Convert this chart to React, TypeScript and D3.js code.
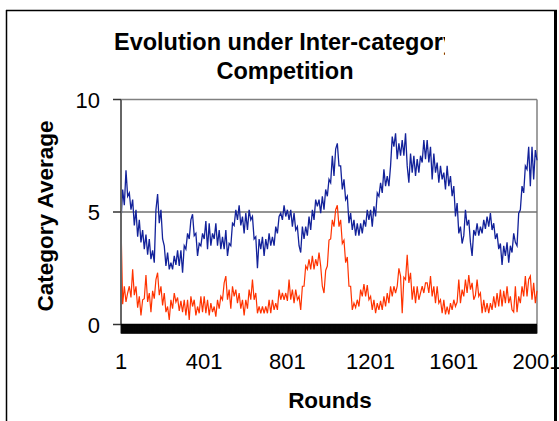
import React from 'react';
import * as d3 from 'd3';

// rounds 1..2001, one sample every 8 rounds
const firstRound = 1;
const lastRound = 2001;
const sampleStep = 8;

// upper (blue) category average
const blueSeries = [
  4.6, 6.0, 5.3, 6.85, 5.7, 5.85, 5.1, 5.55, 4.4, 5.1,
  3.9, 4.65, 3.65, 4.2, 3.35, 4.0, 3.1, 3.8, 2.9, 3.3,
  2.75, 5.1, 5.8, 4.5, 5.1, 3.8, 3.5, 2.6, 3.2, 2.45,
  2.75, 2.45, 3.05, 2.65,
  3.3, 2.6, 3.3, 2.3, 3.5, 3.35, 4.05, 3.8, 4.65, 4.9,
  3.95, 4.05, 3.05, 3.6, 3.5, 4.05, 3.8, 4.6, 3.35, 4.5,
  3.5, 4.05, 3.8, 4.5, 3.5, 4.2, 3.35, 3.9, 3.35, 4.2,
  3.05, 3.6, 3.5, 4.5, 4.4, 5.1,
  4.65, 5.3, 4.4, 4.8, 4.05, 4.95, 4.2, 5.1, 4.65, 4.8,
  3.8, 3.9, 2.5, 3.8, 3.35, 3.9, 3.05, 3.8, 3.35, 4.05,
  3.5, 3.9, 3.5, 4.35, 4.05, 4.8, 4.95, 4.65, 5.3, 4.8,
  5.1, 4.65, 5.1, 4.35, 4.95, 4.2,
  4.35, 3.5, 3.2, 4.35, 3.8, 4.35, 3.95, 4.8, 4.2, 5.1,
  4.65, 5.55, 5.25, 5.55, 4.95, 5.7, 5.1, 6.0, 5.7, 6.45,
  6.3, 7.5, 6.6, 7.8, 8.05, 7.05, 7.05, 6.0, 6.45, 5.55,
  5.7, 4.5, 4.95, 4.2, 4.65, 3.95,
  4.5, 3.95, 4.5, 4.05, 4.65, 4.35, 5.1, 4.65, 5.1, 4.35,
  5.25, 4.8, 5.85, 5.7, 6.3, 5.85, 6.9, 6.15, 6.6, 6.15,
  7.05, 8.35, 7.9, 8.5, 7.35, 8.05, 7.5, 8.2, 7.5, 8.5,
  7.05, 6.3, 7.6, 6.75, 7.5, 6.6,
  7.35, 6.75, 7.5, 7.2, 8.2, 7.35, 8.2, 7.2, 7.9, 6.45,
  7.6, 6.75, 7.2, 6.3, 7.05, 6.45, 6.75, 6.0, 7.05, 6.15,
  6.6, 5.7, 6.15, 4.8, 5.4, 4.05, 4.35, 3.6, 3.95, 5.1,
  4.4, 4.65, 3.65, 3.05, 4.2, 3.95,
  4.5, 3.95, 4.35, 4.05, 4.65, 4.25, 4.8, 4.35, 4.95, 4.2,
  4.5, 3.8, 4.05, 3.35, 3.6, 2.65, 3.5, 3.05, 3.65, 2.75,
  3.5, 3.2, 4.05, 3.65, 3.5, 4.95, 5.1, 6.15, 5.85, 7.05,
  6.9, 7.9, 6.15, 7.9, 6.45, 7.75, 7.3,
];

// lower (red) category average
const redSeries = [
  4.5, 0.9, 1.7, 1.0, 1.4, 1.7, 1.2, 2.45, 1.3, 1.7,
  0.75, 1.25, 0.4, 1.1, 1.15, 2.2, 1.0, 1.4, 0.55, 1.5,
  1.15, 2.0, 2.3, 1.3, 1.7, 0.85, 1.4, 0.55, 0.8, 0.2,
  1.1, 0.7, 1.4, 1.0,
  1.2, 0.6, 1.05, 0.55, 1.1, 0.4, 1.1, 0.2, 1.25, 0.8,
  1.1, 0.4, 0.8, 0.5, 1.25, 0.55, 1.25, 0.5, 1.1, 0.4,
  0.95, 0.55, 0.8, 0.35, 1.1, 0.7, 1.25, 1.1, 1.85, 2.15,
  1.1, 1.55, 0.7, 1.7, 1.25, 1.55,
  0.95, 1.4, 0.7, 1.1, 0.4, 1.1, 0.7, 1.55, 1.1, 2.0,
  1.1, 1.4, 0.5, 0.8, 0.5, 0.8, 0.5, 0.8, 0.5, 1.1,
  0.5, 1.1, 0.65, 0.95, 0.65, 1.55, 1.1, 1.4, 1.1, 1.4,
  1.05, 2.0, 1.1, 1.55, 0.95, 1.55,
  1.1, 1.25, 0.65, 1.7, 1.7, 2.6, 2.45, 2.9, 2.45, 3.05,
  2.45, 2.9, 2.6, 3.2, 2.6, 1.7, 1.4, 2.4, 2.6, 3.75,
  3.8, 4.65, 4.35, 5.1, 5.3, 4.35, 4.65, 3.6, 3.75, 2.75,
  3.0, 1.7, 1.7, 0.65, 0.95, 0.75,
  1.1, 0.8, 1.55, 1.25, 1.8, 1.25, 1.75, 1.1, 1.25, 0.65,
  1.1, 0.5, 0.95, 0.65, 1.05, 0.65, 1.25, 0.8, 1.4, 0.95,
  1.7, 1.25, 1.7, 1.4, 1.7, 2.5, 2.15, 0.5, 2.1, 2.0,
  3.1, 1.85, 2.3, 1.1, 1.7, 0.95,
  1.7, 1.1, 1.4, 1.7, 1.4, 1.85, 1.85, 1.4, 2.15, 1.25,
  1.7, 0.95, 1.7, 0.95, 1.1, 0.5, 1.1, 0.45, 0.8, 0.45,
  0.95, 0.65, 1.1, 0.8, 1.0, 2.0, 0.95, 1.55, 1.25, 2.0,
  1.4, 2.2, 1.55, 1.85, 1.1, 1.3,
  2.0, 1.25, 1.4, 0.5, 1.1, 0.55, 0.95, 0.5, 0.95, 0.65,
  1.25, 0.75, 1.4, 0.8, 1.55, 0.8, 1.5, 0.95, 1.7, 0.95,
  1.25, 0.65, 0.55, 1.7, 0.55, 1.25, 0.95, 1.7, 1.25, 2.15,
  1.25, 2.0, 2.15, 1.1, 1.85, 0.95, 1.5,
];

const xTickLabels = [1, 401, 801, 1201, 1601, 2001];
const yTickValues = [0, 5, 10];
const titleLines = ['Evolution under Inter-category', 'Competition'];

const W = 559;
const H = 421;
const margin = { left: 121, right: 22, top: 99.5, bottom: 96.5 };
const font = "'Liberation Sans', Arial, sans-serif";

export default function App() {
  const x = d3.scaleLinear().domain([firstRound, lastRound]).range([margin.left, W - margin.right]);
  const y = d3.scaleLinear().domain([0, 10]).range([H - margin.bottom, margin.top]);

  const line = d3.line<number>()
    .x((_, i) => x(firstRound + i * sampleStep))
    .y(d => y(d));

  const tickRounds = d3.range(firstRound, lastRound + 1);
  const [x0, x1] = x.range();
  const [y0, y1] = y.range();

  return (
    <svg width={W} height={H} style={{ position: 'absolute', left: 0, top: 0, background: '#fff' }} fontFamily={font}>
      <defs>
        <clipPath id="titleClip">
          <rect x={0} y={0} width={445} height={H} />
        </clipPath>
      </defs>

      {/* chart frame */}
      <line x1={6.5} x2={6.5} y1={10} y2={H} stroke="#000" strokeWidth={1.5} />
      <line x1={6} x2={557} y1={10.5} y2={10.5} stroke="#000" strokeWidth={1.5} />
      <rect x={554} y={10} width={3} height={H - 10} fill="#000" />

      {/* title */}
      <g clipPath="url(#titleClip)" fontWeight="bold" fontSize={23.5} textAnchor="middle">
        <text x={285} y={50}>{titleLines[0]}</text>
        <text x={285} y={79}>{titleLines[1]}</text>
      </g>

      {/* plot border + gridlines */}
      <line x1={x0} x2={x1} y1={y1} y2={y1} stroke="#808080" strokeWidth={1.5} />
      <line x1={x1} x2={x1} y1={y1} y2={y0} stroke="#808080" strokeWidth={1.5} />
      {yTickValues.filter(v => v > 0 && v < 10).map(v => (
        <line key={v} x1={x0} x2={x1} y1={y(v)} y2={y(v)} stroke="#707070" strokeWidth={1.5} />
      ))}

      {/* series */}
      <path d={line(blueSeries) ?? ''} fill="none" stroke="#13229a" strokeWidth={1.3} />
      <path d={line(redSeries) ?? ''} fill="none" stroke="#ff3300" strokeWidth={1.2} />

      {/* y axis */}
      <line x1={x0} x2={x0} y1={y1} y2={y0} stroke="#666" strokeWidth={2} />
      {yTickValues.map(v => (
        <g key={v}>
          <line x1={x0 - 8} x2={x0} y1={y(v)} y2={y(v)} stroke="#333" strokeWidth={1.5} />
          <text x={100} y={y(v) + 8} textAnchor="end" fontSize={22}>{v}</text>
        </g>
      ))}

      {/* x axis: one tick per round makes the dark band */}
      <line x1={x0} x2={x1} y1={y0} y2={y0} stroke="#000" strokeWidth={1.5} />
      <g stroke="#000" strokeWidth={0.6}>
        {tickRounds.map(r => (
          <line key={r} x1={x(r)} x2={x(r)} y1={y0} y2={y0 + 9} />
        ))}
      </g>
      {xTickLabels.map(r => (
        <text key={r} x={x(r)} y={369} textAnchor="middle" fontSize={22}>{r}</text>
      ))}

      {/* axis titles */}
      <text x={330} y={408} textAnchor="middle" fontWeight="bold" fontSize={22.5}>Rounds</text>
      <text transform={`translate(53,216) rotate(-90)`} textAnchor="middle" fontWeight="bold" fontSize={22.5}>Category Average</text>
    </svg>
  );
}
